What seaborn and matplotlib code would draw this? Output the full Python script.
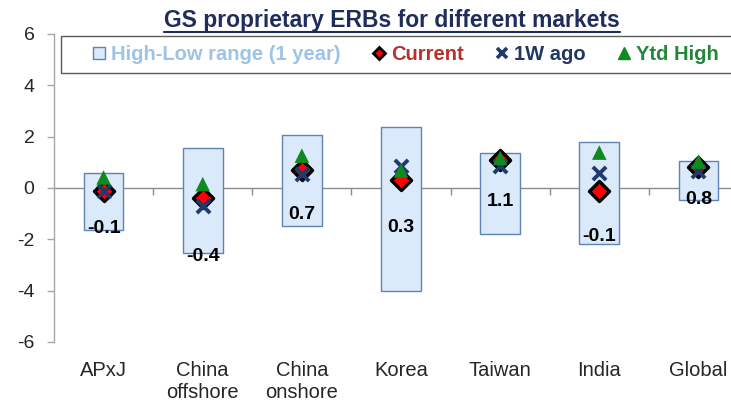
import numpy as np
import pandas as pd
import matplotlib
matplotlib.use("Agg")
import matplotlib.pyplot as plt
import seaborn as sns
from matplotlib.patches import Patch, Rectangle
from matplotlib.lines import Line2D

# ---- data ----
markets = ["APxJ", "China\noffshore", "China\nonshore", "Korea", "Taiwan", "India", "Global"]
range_high = [0.60, 1.57, 2.06, 2.39, 1.35, 1.80, 1.06]
range_low = [-1.64, -2.53, -1.48, -4.00, -1.79, -2.18, -0.47]
current = [-0.1, -0.4, 0.7, 0.3, 1.1, -0.1, 0.8]
week_ago = [-0.12, -0.72, 0.56, 0.84, 0.84, 0.58, 0.65]
ytd_high = [0.41, 0.15, 1.26, 0.68, 1.17, 1.38, 1.03]
yticks = [-6, -4, -2, 0, 2, 4, 6]

# label drop below each "Current" marker, in points
label_drop = [27, 42, 32, 34, 30, 33, 23]

df = pd.DataFrame({
    "market": markets,
    "high": range_high,
    "low": range_low,
    "current": current,
    "week_ago": week_ago,
    "ytd_high": ytd_high,
})

sns.set_style("white")
plt.rcParams["font.family"] = ["Liberation Sans", "DejaVu Sans"]
plt.rcParams["axes.unicode_minus"] = False

box_face = "#DAEAFA"
box_edge = "#5F82B5"
red = "#FF0000"
navy = "#1F3A6E"
green = "#0F8A1E"
grey = "#8C8C8C"

fig = plt.figure(figsize=(7.31, 4.04), dpi=100)
ax = fig.add_axes([54 / 731, 1 - 342 / 404, (748 - 54) / 731, 308 / 404])

# high-low range boxes
ax.bar(df["market"], df["high"] - df["low"], bottom=df["low"], width=0.4,
       color=box_face, edgecolor=box_edge, linewidth=1.0, zorder=2)

# markers
sns.scatterplot(data=df, x="market", y="current", marker="D", s=105, color=red,
                edgecolor="black", linewidth=2.4, zorder=3, legend=False, ax=ax)
sns.scatterplot(data=df, x="market", y="week_ago", marker="x", s=90, color=navy,
                linewidth=2.8, zorder=4, legend=False, ax=ax)
sns.scatterplot(data=df, x="market", y="ytd_high", marker="^", s=110, color=green,
                edgecolor="none", linewidth=0, zorder=5, legend=False, ax=ax)

# value labels for the current reading
for i, (v, d) in enumerate(zip(df["current"], label_drop)):
    ax.annotate(f"{v:.1f}", xy=(i, v), xytext=(0, -d), textcoords="offset points",
                ha="center", va="center", fontsize=14, fontweight="bold",
                color="black", zorder=6)

# axes styling
ax.set_xlim(-0.5, len(markets) - 0.5)
ax.set_ylim(yticks[0], yticks[-1])
ax.set_yticks([t for t in yticks if t != 0], minor=True)
ax.set_yticks(yticks)
ax.set_xlabel("")
ax.set_ylabel("")
ax.yaxis.grid(False, which="major")
ax.yaxis.grid(True, which="minor", linestyle=(0, (1, 2)), color="#C8C8C8", linewidth=1.0)
ax.tick_params(axis="y", which="minor", length=0)
ax.xaxis.grid(False)
ax.set_axisbelow(True)
for side in ["top", "right", "bottom"]:
    ax.spines[side].set_visible(False)
ax.spines["left"].set_color("#A6A6A6")
ax.spines["left"].set_linewidth(1.0)
ax.tick_params(axis="y", which="major", direction="out", length=5, width=1,
               color="#A6A6A6", labelsize=14, pad=9, left=True)
ax.tick_params(axis="x", which="major", length=0, labelsize=14.5, pad=14)
for lab in ax.get_xticklabels():
    lab.set_linespacing(1.15)

# zero line with ticks between categories
zero_axis = ax.secondary_xaxis(0.5)
zero_axis.set_alignment("bottom")
zero_axis.set_xticks(np.arange(len(markets) - 1) + 0.5)
zero_axis.set_xticklabels([])
for side in ["top", "bottom"]:
    zero_axis.spines[side].set_color(grey)
    zero_axis.spines[side].set_linewidth(1.0)
zero_axis.tick_params(axis="x", direction="out", length=5, width=1, color=grey)

# legend box and entries
fig.add_artist(Rectangle((61 / 731, 1 - 73 / 404), (770 - 61) / 731, 37 / 404,
                         transform=fig.transFigure, facecolor="white",
                         edgecolor="#5A5A5A", linewidth=1.0, zorder=10))
handles = [
    Patch(facecolor=box_face, edgecolor=box_edge, linewidth=1.0),
    Line2D([], [], linestyle="none", marker="D", markersize=6.5, markerfacecolor=red,
           markeredgecolor="black", markeredgewidth=2.0),
    Line2D([], [], linestyle="none", marker="x", markersize=7.5, color=navy,
           markeredgewidth=2.6),
    Line2D([], [], linestyle="none", marker="^", markersize=8, color=green),
]
labels = ["High-Low range (1 year)", "Current", "1W ago", "Ytd High"]
leg = fig.legend(handles, labels, loc="center", bbox_to_anchor=(406 / 731, 1 - 54.5 / 404),
                 ncol=4, frameon=False, handlelength=0.6, handleheight=0.6,
                 handletextpad=0.3, columnspacing=1.6, borderpad=0,
                 labelcolor=["#9DC3E6", "#B8302A", "#1F3864", "#21883A"],
                 prop={"weight": "bold", "size": 14.5})
leg.set_zorder(11)

# title with underline
title = fig.text(392 / 731, 1 - 20 / 404, "GS proprietary ERBs for different markets",
                 ha="center", va="center", fontsize=16.5, fontweight="bold",
                 color="#1F2D5C")
fig.canvas.draw()
bb = title.get_window_extent().transformed(fig.transFigure.inverted())
fig.add_artist(Line2D([bb.x0, bb.x1], [bb.y0 - 0.002, bb.y0 - 0.002],
                      transform=fig.transFigure, color="#1F2D5C", linewidth=1.5))

fig.savefig("out.png", dpi=100)
